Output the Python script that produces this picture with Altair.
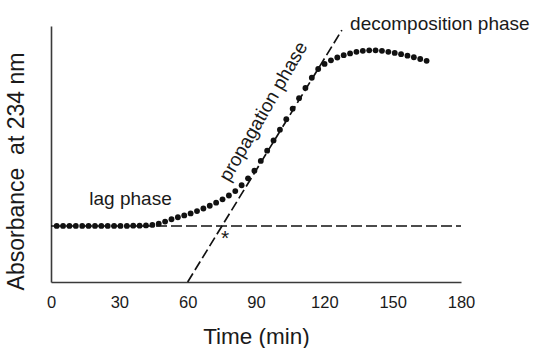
import altair as alt
import pandas as pd

# sample times (min) and absorbance (arbitrary units)
time_min = [2.5, 5.3, 8.1, 10.9, 13.7, 16.5, 19.3, 22.1, 24.9, 27.7, 30.5, 33.3,
            36.1, 38.9, 41.7, 44.5, 47.3, 50.1, 52.9, 55.7, 58.5, 61.3, 64.1, 66.9,
            69.7, 72.5, 75.3, 78.1, 80.9, 83.7, 86.5, 89.3, 92.1, 94.9, 97.7, 100.5,
            103.3, 106.1, 108.9, 111.7, 114.5, 117.3, 120.1, 122.9, 125.7, 128.5,
            131.3, 134.1, 136.9, 139.7, 142.5, 145.3, 148.1, 150.9, 153.7, 156.5,
            159.3, 162.1, 164.9]
absorbance = [0.219, 0.219, 0.219, 0.219, 0.219, 0.219, 0.219, 0.219, 0.219, 0.219,
              0.219, 0.219, 0.22, 0.22, 0.221, 0.223, 0.228, 0.236, 0.245, 0.253,
              0.26, 0.268, 0.277, 0.287, 0.298, 0.31, 0.323, 0.338, 0.355, 0.378,
              0.405, 0.435, 0.473, 0.513, 0.553, 0.595, 0.636, 0.677, 0.718, 0.758,
              0.798, 0.832, 0.852, 0.866, 0.877, 0.886, 0.893, 0.899, 0.903, 0.905,
              0.905, 0.903, 0.899, 0.895, 0.89, 0.884, 0.878, 0.871, 0.864]

baseline_level = [0.219]
baseline_x = [0, 180]
tangent_x = [60, 127.7]
tangent_y = [0.0, 0.984]

x_ticks = [0, 30, 60, 90, 120, 150, 180]

TXT = "#1a1a1a"
FONT = "Liberation Sans"

df = pd.DataFrame({"t": time_min, "a": absorbance})
base_df = pd.DataFrame({"x": [baseline_x[0]], "x2": [baseline_x[1]], "y": baseline_level})
tan_df = pd.DataFrame({"t": tangent_x, "a": tangent_y})

xscale = alt.Scale(domain=[0, 180], nice=False, zero=False)
yscale = alt.Scale(domain=[0, 1], nice=False, zero=False)

xaxis = alt.Axis(values=x_ticks, ticks=False, grid=False, labelFontSize=16.5,
                 labelFont=FONT, labelColor=TXT, labelPadding=12,
                 domainColor="#3a3a3a", domainWidth=1.6,
                 title="Time (min)", titleFont=FONT, titleFontSize=22.5,
                 titleFontWeight="normal", titleColor=TXT,
                 titleBaseline="alphabetic", titleY=61, labelFlush=False)
yaxis = alt.Axis(labels=False, ticks=False, grid=False,
                 domainColor="#3a3a3a", domainWidth=1.6,
                 title="Absorbance\u00a0 at 234 nm", titleFont=FONT, titleFontSize=23,
                 titleFontWeight="normal", titleColor=TXT, titleAngle=270,
                 titleAlign="center", titleBaseline="middle", titleX=-35, titleY=145)

dots = alt.Chart(df).mark_circle(size=34, color="#111111", opacity=1).encode(
    x=alt.X("t:Q", scale=xscale, axis=xaxis),
    y=alt.Y("a:Q", scale=yscale, axis=yaxis),
)

hline = alt.Chart(base_df).mark_rule(color="#111111", strokeWidth=1.6,
                                     strokeDash=[11, 4]).encode(
    x=alt.X("x:Q", scale=xscale), x2="x2:Q", y=alt.Y("y:Q", scale=yscale))

tangent = alt.Chart(tan_df).mark_line(color="#111111", strokeWidth=1.7,
                                      strokeDash=[10, 4]).encode(
    x=alt.X("t:Q", scale=xscale), y=alt.Y("a:Q", scale=yscale))

def label(txt, x, y, size=19, angle=0, align="center", baseline="alphabetic"):
    d = pd.DataFrame({"x": [x], "y": [y], "txt": [txt]})
    return alt.Chart(d).mark_text(font=FONT, fontSize=size, color=TXT, angle=angle,
                                  align=align, baseline=baseline).encode(
        x=alt.X("x:Q", scale=xscale), y=alt.Y("y:Q", scale=yscale), text="txt:N")

lag = label("lag phase", 34.9, 0.30)
prop = label("propagation phase", 93.3, 0.666, angle=300, baseline="middle")
decomp = label("decomposition phase", 131.3, 0.984, align="left")
star = label("*", 76.4, 0.145, size=21, baseline="alphabetic")

chart = alt.layer(hline, tangent, dots, lag, prop, decomp, star).properties(
    width=410, height=256,
    autosize=alt.AutoSizeParams(type="none"),
    padding={"left": 51, "top": 26, "right": 72, "bottom": 66},
    background="white",
).configure_view(stroke=None)

chart.save("out.html", embed_options={"renderer": "svg", "actions": False})
